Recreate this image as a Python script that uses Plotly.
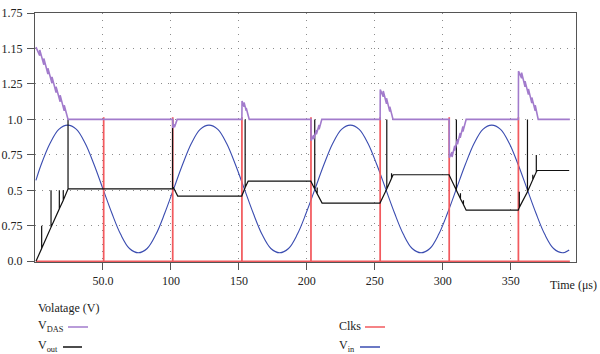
import plotly.graph_objects as go

# ---------------- data ----------------
vin_t = [0.7, 4.5, 11, 17.5, 24, 30.5, 37, 43.5, 50, 56.5, 63, 69.5, 76, 82.5, 89, 95.5,
         102, 108.5, 115, 121.5, 128, 134.5, 141, 147.5, 154, 160.5, 167, 173.5, 180, 186.5,
         193, 199.5, 206, 212.5, 219, 225.5, 232, 238.5, 245, 251.5, 258, 264.5, 271, 277.5,
         284, 290.5, 297, 303.5, 310, 316.5, 323, 329.5, 336, 342.5, 349, 355.5, 362, 368.5,
         375, 381.5, 388, 393]
vin_v = [0.57, 0.68, 0.83, 0.93, 0.96, 0.93, 0.83, 0.68, 0.51, 0.34, 0.19, 0.09, 0.06, 0.09, 0.19, 0.34,
         0.51, 0.68, 0.83, 0.93, 0.96, 0.93, 0.83, 0.68, 0.51, 0.34, 0.19, 0.09, 0.06, 0.09,
         0.19, 0.34, 0.51, 0.68, 0.83, 0.93, 0.96, 0.93, 0.83, 0.68, 0.51, 0.34, 0.19, 0.09,
         0.06, 0.09, 0.19, 0.34, 0.51, 0.68, 0.83, 0.93, 0.96, 0.93, 0.83, 0.68, 0.51, 0.34,
         0.19, 0.09, 0.06, 0.08]

vout_t = [0.7, 4.9, 4.9, 4.9, 11.8, 11.8, 11.8, 17.9, 17.9, 17.9, 20.8, 20.8, 20.8, 24.3, 24.3, 24.3,
          101.2, 101.2, 101.2, 101.8, 105.0,
          152.1, 154.6, 154.6, 154.6, 156.8,
          202.9, 205.8, 205.8, 205.8, 207.6, 207.6, 207.6, 211.2,
          253.8, 258.8, 258.8, 258.8, 262.3, 262.3, 262.3, 263.5,
          304.6, 310.0, 310.0, 310.0, 313.0, 313.0, 313.0, 315.2, 315.2, 315.2, 317.2,
          355.5, 356.3, 356.3, 356.3, 362.3, 362.3, 362.3, 366.2, 366.2, 366.2, 368.8, 368.8, 368.8, 369.4,
          393.0]
vout_v = [0.0, 0.09, 0.25, 0.09, 0.24, 0.50, 0.24, 0.37, 0.50, 0.37, 0.43, 0.50, 0.43, 0.51, 1.0, 0.51,
          0.51, 1.0, 0.52, 0.52, 0.46,
          0.46, 0.52, 1.0, 0.52, 0.565,
          0.565, 0.51, 1.0, 0.51, 0.475, 0.52, 0.475, 0.41,
          0.41, 0.51, 1.0, 0.51, 0.585, 0.62, 0.585, 0.61,
          0.61, 0.50, 1.0, 0.50, 0.44, 0.48, 0.44, 0.40, 0.43, 0.40, 0.36,
          0.36, 0.38, 0.49, 0.38, 0.49, 1.0, 0.49, 0.575, 0.61, 0.575, 0.63, 0.75, 0.63, 0.64,
          0.64]

vdas_t = [0.7, 3.5, 3.5, 6.5, 6.5, 9.5, 9.5, 12.5, 12.5, 15.5, 15.5, 18.5, 18.5, 21.5, 21.5, 24.3,
          101.3, 101.4, 102.6, 102.6, 104.6,
          152.2, 152.3, 153.8, 153.8, 155.4, 155.4, 157.6,
          203.0, 203.1, 205.0, 205.0, 207.0, 207.0, 209.0, 209.0, 211.0,
          253.9, 254.0, 256.2, 256.2, 258.6, 258.6, 261.0, 261.0, 263.4,
          304.7, 304.8, 306.8, 306.8, 308.8, 308.8, 310.8, 310.8, 312.8, 312.8, 314.8, 314.8, 317.2,
          355.6, 355.7, 358.0, 358.0, 360.5, 360.5, 363.0, 363.0, 365.5, 365.5, 368.0, 368.0, 370.2,
          393.5]
vdas_v = [1.51, 1.45, 1.49, 1.385, 1.43, 1.32, 1.36, 1.255, 1.30, 1.19, 1.23, 1.125, 1.17, 1.06, 1.10, 1.0,
          1.0, 0.94, 0.965, 0.945, 1.0,
          1.0, 1.13, 1.09, 1.12, 1.06, 1.08, 1.0,
          1.0, 0.85, 0.89, 0.86, 0.925, 0.895, 0.96, 0.93, 1.0,
          1.0, 1.21, 1.16, 1.20, 1.11, 1.15, 1.055, 1.09, 1.0,
          1.0, 0.73, 0.77, 0.735, 0.815, 0.78, 0.86, 0.825, 0.905, 0.87, 0.95, 0.915, 1.0,
          1.0, 1.34, 1.29, 1.33, 1.23, 1.27, 1.175, 1.215, 1.115, 1.155, 1.06, 1.10, 1.0,
          1.0]

clk_times = [50.4, 101.2, 152.1, 202.9, 253.8, 304.6, 355.5]
clk_high = 1.01
clk_width = 0.25
clk_start, clk_end = 0.7, 393.5

x_tickvals = [50, 100, 150, 200, 250, 300, 350]
x_ticktext = ["50.0", "100", "150", "200", "250", "300", "350"]
y_tickvals = [0, 0.25, 0.5, 0.75, 1.0, 1.25, 1.5, 1.75]
y_ticktext = ["0.0", "0.75", "0.5", "0.75", "1.0", "1.25", "1.15", "1.75"]

# ---------------- build clock trace from the clock times ----------------
clk_x, clk_y = [clk_start], [0]
for c in clk_times:
    clk_x += [c, c, c + clk_width, c + clk_width]
    clk_y += [0, clk_high, clk_high, 0]
clk_x.append(clk_end)
clk_y.append(0)

FONT = "Liberation Serif"
C_DAS = "#a27bcc"
C_OUT = "#111111"
C_CLK = "#f25a5e"
C_IN = "#3a4cb0"

fig = go.Figure()
fig.add_trace(go.Scatter(x=vin_t, y=vin_v, mode="lines", name="V_in",
                         line=dict(color=C_IN, width=1.1, shape="spline", smoothing=1.0)))
fig.add_trace(go.Scatter(x=clk_x, y=clk_y, mode="lines", name="Clks",
                         line=dict(color=C_CLK, width=1.4)))
fig.add_trace(go.Scatter(x=vout_t, y=vout_v, mode="lines", name="V_out",
                         line=dict(color=C_OUT, width=1.2)))
fig.add_trace(go.Scatter(x=vdas_t, y=vdas_v, mode="lines", name="V_DAS",
                         line=dict(color=C_DAS, width=1.6)))

axis_common = dict(showline=True, linecolor="#555555", linewidth=1.4, mirror=True,
                   ticks="outside", ticklen=7, tickcolor="#555555", tickwidth=1,
                   showgrid=True, gridcolor="#8c8c8c", griddash="1px,6px", gridwidth=1,
                   zeroline=False, automargin=False,
                   tickfont=dict(family=FONT, size=12, color="#222222"))

fig.update_xaxes(range=[0, 398], tickmode="array", tickvals=x_tickvals, ticktext=x_ticktext,
                 layer="below traces", **axis_common)
fig.update_yaxes(range=[-0.005, 1.75], tickmode="array", tickvals=y_tickvals, ticktext=y_ticktext,
                 layer="below traces", ticklabelstandoff=2, **axis_common)

# plot area: x 35..576 px, y 13..262 px
L, R, T, B = 35, 24, 13, 92
W, H = 600, 354
pw, ph = W - L - R, H - T - B


def px(xp):
    return (xp - L) / pw


def py(yp):
    return (H - B - yp) / ph


ann = []
ann.append(dict(text="Time (μs)", x=px(599), y=py(285), xref="paper", yref="paper",
                xanchor="right", yanchor="middle", showarrow=False,
                font=dict(family=FONT, size=12, color="#222222")))
ann.append(dict(text="Volatage (V)", x=px(36), y=py(308), xref="paper", yref="paper",
                xanchor="left", yanchor="middle", showarrow=False,
                font=dict(family=FONT, size=12, color="#222222")))

legend_items = [
    ("V<sub>DAS</sub>", 36, 326, 68, 88, C_DAS),
    ("V<sub>out</sub>", 36, 346, 63, 82, C_OUT),
    ("Clks", 337, 326, 365, 385, C_CLK),
    ("V<sub>in</sub>", 337, 346, 360, 380, C_IN),
]
shapes = []
for txt, tx, ty, s0, s1, col in legend_items:
    ann.append(dict(text=txt, x=px(tx), y=py(ty), xref="paper", yref="paper",
                    xanchor="left", yanchor="middle", showarrow=False,
                    font=dict(family=FONT, size=12, color="#222222")))
    shapes.append(dict(type="line", xref="paper", yref="paper",
                       x0=px(s0), x1=px(s1), y0=py(ty + 1), y1=py(ty + 1),
                       line=dict(color=col, width=1.5)))

fig.update_layout(width=W, height=H, margin=dict(l=L, r=R, t=T, b=B, pad=0, autoexpand=False),
                  paper_bgcolor="white", plot_bgcolor="white", showlegend=False,
                  annotations=ann, shapes=shapes,
                  font=dict(family=FONT, size=12, color="#222222"))

fig.write_html("out.html")
